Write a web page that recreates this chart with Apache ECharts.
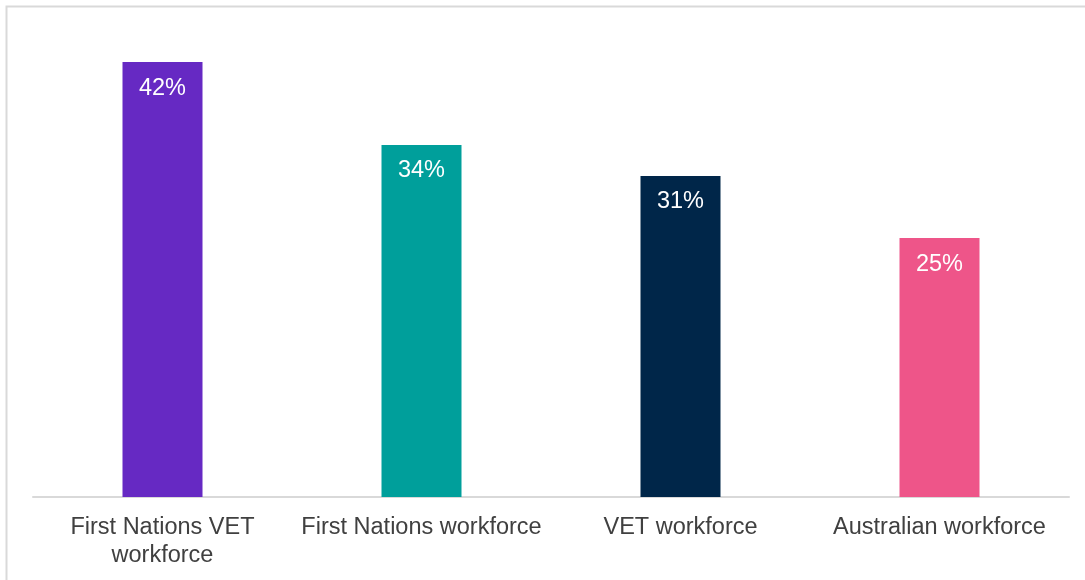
<!DOCTYPE html>
<html>
<head>
<meta charset="utf-8">
<script src="https://cdn.jsdelivr.net/npm/echarts@6/dist/echarts.min.js"></script>
<style>
  html, body { margin: 0; padding: 0; background: #ffffff; }
  #chart { width: 1085px; height: 580px; }
</style>
</head>
<body>
<div id="chart"></div>
<script>
// Share of each workforce (per cent)
const categories = ['First Nations VET\nworkforce', 'First Nations workforce', 'VET workforce', 'Australian workforce'];
const values = [42, 34, 31, 25];
const barColors = ['#6629c3', '#009f9b', '#002649', '#ee5589'];

const chart = echarts.init(document.getElementById('chart'), null, { renderer: 'canvas' });

chart.setOption({
  backgroundColor: '#ffffff',
  animation: false,
  graphic: [{
    type: 'rect',
    left: 4,
    top: 4,
    shape: { width: 1200, height: 700 },
    style: { fill: 'none', stroke: '#d9d9d9', lineWidth: 2 },
    silent: true
  }],
  grid: { left: 33, right: 16, top: 31, bottom: 83 },
  xAxis: {
    type: 'category',
    data: categories,
    axisLine: { lineStyle: { color: '#d9d9d9', width: 2 } },
    axisTick: { show: false },
    axisLabel: {
      color: '#404040',
      fontFamily: 'Liberation Sans, Arial, sans-serif',
      fontSize: 23.5,
      lineHeight: 28,
      margin: 17,
      interval: 0
    }
  },
  yAxis: {
    type: 'value',
    min: 0,
    max: 45,
    show: false,
    splitLine: { show: false }
  },
  series: [{
    type: 'bar',
    barWidth: 80,
    data: values.map((v, i) => ({ value: v, itemStyle: { color: barColors[i] } })),
    label: {
      show: true,
      position: 'insideTop',
      distance: 14,
      color: '#ffffff',
      fontFamily: 'Liberation Sans, Arial, sans-serif',
      fontSize: 23.5,
      formatter: p => p.value + '%'
    }
  }]
});
</script>
</body>
</html>
